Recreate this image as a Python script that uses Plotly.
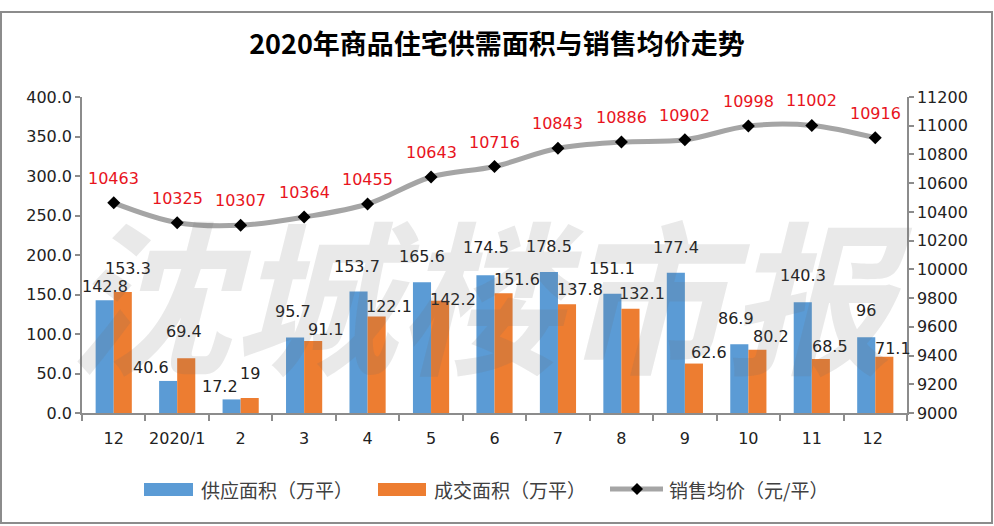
import plotly.graph_objects as go

# ---------------- data ----------------
categories = ["12", "2020/1", "2", "3", "4", "5", "6", "7", "8", "9", "10", "11", "12 "]
supply = [142.8, 40.6, 17.2, 95.7, 153.7, 165.6, 174.5, 178.5, 151.1, 177.4, 86.9, 140.3, 96]
deals = [153.3, 69.4, 19, 91.1, 122.1, 142.2, 151.6, 137.8, 132.1, 62.6, 80.2, 68.5, 71.1]
price = [10463, 10325, 10307, 10364, 10455, 10643, 10716, 10843, 10886, 10902, 10998, 11002, 10916]

# label placement style (pixel nudges, as in the source chart)
supply_dx = [0, -17, -12, -2, -2, 0, 0, 0, 0, 0, -3, 0, 0]
supply_gap = [7, 7, 6, 19, 19, 19, 21, 19, 19, 19, 19, 20, 20]
deals_dx = [5, -2, 0, 13, 12, 13, 13, 13, 12, 15, 14, 9, 9]
deals_gap = [17, 20, 18, 5, 4, -5, 7, 8, 9, 5, 7, 6, 2]

num_font = "DejaVu Sans"
cjk_font = "Noto Sans CJK SC"
BLUE, ORANGE, GREY = "#5b9bd5", "#ed7d31", "#a5a5a5"
TXT = "#222222"

W, H = 994, 526
px_l, px_r, px_t, px_b = 82, 907, 97, 413
pw, ph = px_r - px_l, px_b - px_t


def xp(px):
    return (px - px_l) / pw


def yp(py):
    return (px_b - py) / ph


fig = go.Figure()
fig.add_trace(go.Bar(x=categories, y=supply, name="供应面积（万平）",
                     marker=dict(color=BLUE, line=dict(width=0))))
fig.add_trace(go.Bar(x=categories, y=deals, name="成交面积（万平）",
                     marker=dict(color=ORANGE, line=dict(width=0))))
fig.add_trace(go.Scatter(x=categories, y=price, name="销售均价（元/平）", yaxis="y2",
                         mode="lines+markers",
                         line=dict(color=GREY, width=5, shape="spline", smoothing=1),
                         marker=dict(symbol="diamond", color="black", size=10),
                         cliponaxis=False))

annotations = []
half = 9
for i in range(len(categories)):
    annotations.append(dict(x=i, y=supply[i], xref="x", yref="y", text=f"{supply[i]:g}",
                            showarrow=False, xanchor="center", yanchor="bottom",
                            xshift=-half + supply_dx[i], yshift=supply_gap[i] - 5,
                            font=dict(family=num_font, size=16, color=TXT)))
    annotations.append(dict(x=i, y=deals[i], xref="x", yref="y", text=f"{deals[i]:g}",
                            showarrow=False, xanchor="center", yanchor="bottom",
                            xshift=half + deals_dx[i], yshift=deals_gap[i] - 5,
                            font=dict(family=num_font, size=16, color=TXT)))
    annotations.append(dict(x=i, y=price[i], xref="x", yref="y2", text=str(price[i]),
                            showarrow=False, xanchor="center", yanchor="bottom",
                            yshift=13,
                            font=dict(family=num_font, size=16, color="#e8141c")))

# watermark
annotations.append(dict(text="<b><i>沈城楼市报</i></b>", xref="paper", yref="paper",
                        x=xp(490), y=yp(290), showarrow=False,
                        font=dict(family=cjk_font, size=165, color="rgba(110,110,110,0.15)")))

# custom legend texts
leg_y = 489
for lx, label in [(199, "供应面积（万平）"), (432, "成交面积（万平）"), (667, "销售均价（元/平）")]:
    annotations.append(dict(text=label, xref="paper", yref="paper", x=xp(lx), y=yp(leg_y),
                            xanchor="left", yanchor="middle", showarrow=False,
                            font=dict(family=cjk_font, size=19, color="#404040")))

shapes = [
    # outer frame
    dict(type="rect", xref="paper", yref="paper", x0=xp(1), x1=xp(992), y0=yp(523), y1=yp(12),
         line=dict(color="#8c8c8c", width=2), fillcolor="rgba(0,0,0,0)", layer="below"),
    # legend swatches
    dict(type="rect", xref="paper", yref="paper", x0=xp(144), x1=xp(193), y0=yp(496), y1=yp(483),
         line=dict(width=0), fillcolor=BLUE),
    dict(type="rect", xref="paper", yref="paper", x0=xp(378), x1=xp(426), y0=yp(496), y1=yp(483),
         line=dict(width=0), fillcolor=ORANGE),
    dict(type="line", xref="paper", yref="paper", x0=xp(610), x1=xp(663), y0=yp(leg_y), y1=yp(leg_y),
         line=dict(color=GREY, width=5)),
    dict(type="path", xref="paper", yref="paper",
         path=(f"M {xp(637)} {yp(leg_y - 6)} L {xp(643)} {yp(leg_y)} "
               f"L {xp(637)} {yp(leg_y + 6)} L {xp(631)} {yp(leg_y)} Z"),
         line=dict(width=0), fillcolor="black"),
]

axis_common = dict(showline=True, linecolor="#8c8c8c", linewidth=1.5, ticks="outside",
                   tickcolor="#8c8c8c", tickwidth=1.5, showgrid=False, zeroline=False,
                   tickfont=dict(family=num_font, size=16, color=TXT))

fig.update_layout(
    width=W, height=H,
    margin=dict(l=px_l, r=W - px_r, t=px_t, b=H - px_b, autoexpand=False),
    paper_bgcolor="white", plot_bgcolor="white",
    barmode="group", bargap=0.43, bargroupgap=0,
    showlegend=False,
    title=dict(text="<b>2020年商品住宅供需面积与销售均价走势</b>",
               x=xp(497), xref="paper", xanchor="center", y=1 - 45 / H, yanchor="middle",
               font=dict(family=cjk_font, size=27, color="black")),
    font=dict(family=num_font, size=16, color=TXT),
    xaxis=dict(type="category", range=[-0.5, len(categories) - 0.5], autorange=False,
               ticklen=6, tickson="boundaries", ticklabelstandoff=10,
               tickangle=0, **axis_common),
    yaxis=dict(range=[0, 400], dtick=50, tickformat=".1f", ticklen=5, **axis_common),
    yaxis2=dict(range=[9000, 11200], dtick=200, tickformat="d", overlaying="y", side="right",
                ticklen=5, **axis_common),
    shapes=shapes,
    annotations=annotations,
)

fig.write_html("out.html", config={"displayModeBar": False},
               post_script="document.body.style.margin='0';")
